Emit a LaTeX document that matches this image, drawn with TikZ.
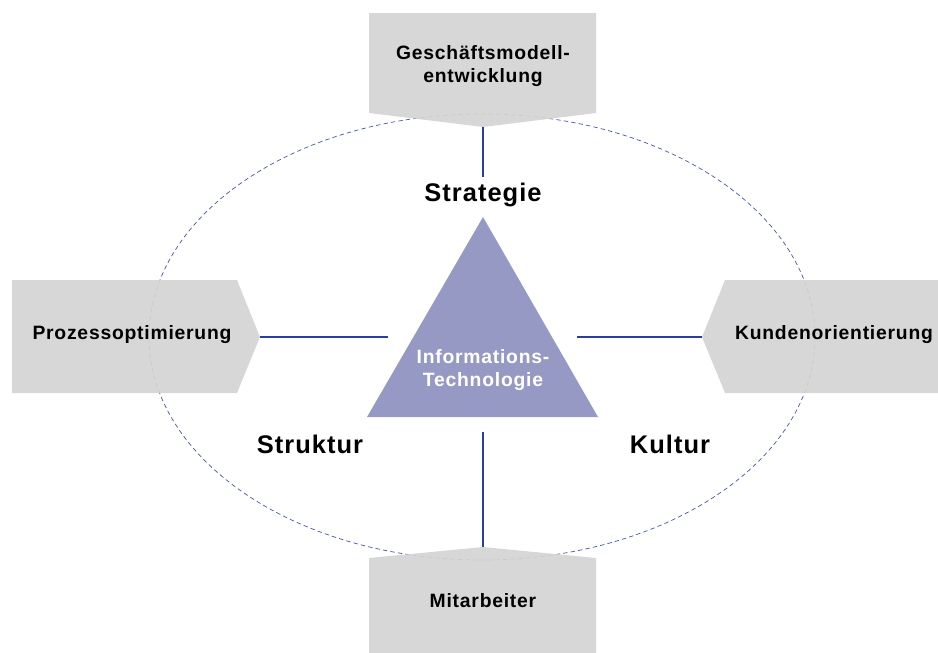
\documentclass[tikz,border=0pt]{standalone}
\usepackage{fontspec}
\setmainfont[LetterSpace=4]{Liberation Sans}

\begin{document}
\begin{tikzpicture}[x=0.02cm,y=-0.02cm]

    % Define colors
    \definecolor{boxgray}{RGB}{212,212,212}
    \definecolor{itlilac}{RGB}{151,153,197}
    \definecolor{linkblue}{RGB}{40,62,160}
    \definecolor{ringblue}{RGB}{70,84,170}

    \tikzset{
        boxlabel/.style={font=\bfseries\fontsize{11}{13}\selectfont, align=center},
        dimlabel/.style={font=\bfseries\fontsize{14.5}{16}\selectfont},
        link/.style={linkblue, line width=0.7pt}
    }

    \useasboundingbox (0,0) rectangle (938,653);

    % dashed ring
    \draw[ringblue, line width=0.4pt, dash pattern=on 2.5pt off 1.8pt] (482,337) ellipse [x radius=333, y radius=223];

    %-------------
    % triangle
    \fill[itlilac] (483,217) -- (598,417) -- (367,417) -- cycle;
    \node[font=\bfseries\fontsize{11}{13.5}\selectfont, text=white, align=center] (it) at (483,370) {Informations-\\Technologie};

    % dimension labels
    \node[dimlabel] (strat) at (483,195) {Strategie};
    \node[dimlabel] (struk) at (310,444) {Struktur};
    \node[dimlabel] (kult) at (670,444) {Kultur};

    % free ends next to the triangle
    \coordinate (it-w) at (388,337);
    \coordinate (it-e) at (577,337);
    \coordinate (it-s) at (483,432);

    %-------------
    % boxes
    \fill[boxgray, opacity=0.92] (369,13) -- (596,13) -- (596,113) -- (483,127) -- (369,113) -- cycle;
    \coordinate (gm-tip) at (483,127);
    \node[boxlabel] (gm) at (483,66) {Geschäftsmodell-\\entwicklung};

    \fill[boxgray, opacity=0.92] (12,280) -- (237,280) -- (260,337) -- (237,393) -- (12,393) -- cycle;
    \coordinate (po-tip) at (260,337);
    \node[boxlabel] (po) at (132,335) {Prozessoptimierung};

    \fill[boxgray, opacity=0.92] (938,280) -- (725,280) -- (702,337) -- (725,393) -- (938,393) -- cycle;
    \coordinate (ko-tip) at (702,337);
    \node[boxlabel] (ko) at (834,335) {Kundenorientierung};

    \fill[boxgray, opacity=0.92] (369,558) -- (483,547) -- (596,558) -- (596,653) -- (369,653) -- cycle;
    \coordinate (ma-tip) at (483,547);
    \node[boxlabel] (ma) at (483,601) {Mitarbeiter};

    %-------------
    % connectors
    \draw[link] (gm-tip) -- (strat.north);
    \draw[link] (po-tip) -- (it-w);
    \draw[link] (it-e) -- (ko-tip);
    \draw[link] (it-s) -- (ma-tip);

\end{tikzpicture}
\end{document}
